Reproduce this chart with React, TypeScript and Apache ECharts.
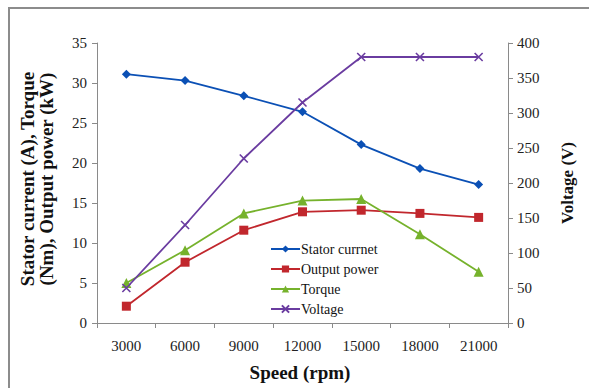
import React, { useEffect, useRef } from "react";
import * as echarts from "echarts";

const speeds = ["3000", "6000", "9000", "12000", "15000", "18000", "21000"];
const statorCurrent = [31.1, 30.3, 28.4, 26.4, 22.3, 19.3, 17.3];
const outputPower = [2.1, 7.6, 11.6, 13.9, 14.1, 13.7, 13.2];
const torque = [5.0, 9.1, 13.7, 15.3, 15.5, 11.1, 6.4];
const voltage = [50, 140, 235, 315, 380, 380, 380];

const FONT = "'Liberation Serif', 'Times New Roman', 'DejaVu Serif', serif";

export default function App() {
  const ref = useRef<HTMLDivElement>(null);
  useEffect(() => {
    if (!ref.current) return;
    const chart = echarts.init(ref.current, undefined, { renderer: "svg" });
    const axisLine = { show: true, lineStyle: { color: "#8a8a8a", width: 1 } };
    const label = { color: "#222", fontFamily: FONT, fontSize: 15 };
    chart.setOption({
      animation: false,
      backgroundColor: "#fff",
      textStyle: { fontFamily: FONT },
      grid: { left: 97, right: 81, top: 43, bottom: 65 },
      graphic: [
        {
          type: "rect",
          shape: { x: 9, y: 8, width: 620, height: 420 },
          style: { fill: "none", stroke: "#8c8c8c", lineWidth: 2 },
          silent: true,
        },
        {
          type: "text",
          x: 37,
          y: 179,
          rotation: Math.PI / 2,
          style: {
            text: "Stator current (A), Torque\n(Nm), Output power (kW)",
            font: `bold 19px ${FONT}`,
            fill: "#111",
            align: "center",
            verticalAlign: "middle",
            lineHeight: 19,
          },
        },
        {
          type: "text",
          x: 567,
          y: 183,
          rotation: Math.PI / 2,
          style: {
            text: "Voltage (V)",
            font: `bold 17px ${FONT}`,
            fill: "#111",
            align: "center",
            verticalAlign: "middle",
          },
        },
        {
          type: "text",
          x: 300,
          y: 372,
          style: {
            text: "Speed (rpm)",
            font: `bold 19px ${FONT}`,
            fill: "#111",
            align: "center",
            verticalAlign: "middle",
          },
        },
      ],
      legend: {
        orient: "vertical",
        left: 265,
        top: 237,
        itemWidth: 29,
        itemHeight: 9,
        itemGap: 6,
        textStyle: { fontFamily: FONT, fontSize: 14, color: "#111", padding: [0, 0, 0, -4] },
        data: ["Stator currnet", "Output power", "Torque", "Voltage"],
      },
      xAxis: {
        type: "category",
        data: speeds,
        boundaryGap: true,
        axisLine,
        axisTick: { show: true, length: 5, lineStyle: { color: "#8a8a8a" } },
        axisLabel: { ...label, margin: 15 },
        splitLine: { show: false },
      },
      yAxis: [
        {
          type: "value",
          min: 0,
          max: 35,
          interval: 5,
          axisLine,
          axisTick: { show: true, length: 5, lineStyle: { color: "#8a8a8a" } },
          axisLabel: { ...label, margin: 10 },
          splitLine: { show: false },
        },
        {
          type: "value",
          min: 0,
          max: 400,
          interval: 50,
          position: "right",
          axisLine,
          axisTick: { show: true, length: 5, lineStyle: { color: "#8a8a8a" } },
          axisLabel: { ...label, margin: 9 },
          splitLine: { show: false },
        },
      ],
      series: [
        {
          name: "Stator currnet",
          type: "line",
          data: statorCurrent,
          symbol: "diamond",
          symbolSize: 9,
          lineStyle: { color: "#0B50B5", width: 1.8 },
          itemStyle: { color: "#0B50B5" },
        },
        {
          name: "Output power",
          type: "line",
          data: outputPower,
          symbol: "rect",
          symbolSize: 9,
          lineStyle: { color: "#C1272D", width: 1.8 },
          itemStyle: { color: "#C1272D" },
        },
        {
          name: "Torque",
          type: "line",
          data: torque,
          symbol: "triangle",
          symbolSize: 10,
          lineStyle: { color: "#76B22C", width: 1.8 },
          itemStyle: { color: "#76B22C" },
        },
        {
          name: "Voltage",
          type: "line",
          yAxisIndex: 1,
          data: voltage,
          symbol: "path://M0,0L10,10M10,0L0,10",
          symbolSize: 8,
          lineStyle: { color: "#6A3CA0", width: 1.8 },
          itemStyle: { color: "#6A3CA0", borderColor: "#6A3CA0", borderWidth: 1.6 },
        },
      ],
    });
    return () => chart.dispose();
  }, []);
  return <div ref={ref} style={{ width: 589, height: 388, position: "absolute", left: 0, top: 0 }} />;
}
